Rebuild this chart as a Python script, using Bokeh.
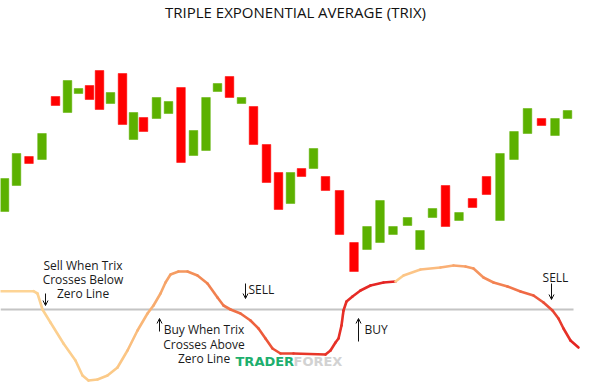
from bokeh.plotting import figure
from bokeh.models import Range1d, Label, Arrow, OpenHead, ColumnDataSource
from bokeh.embed import file_html
from bokeh.resources import INLINE

# ---------------- data ----------------
day = [4, 16, 28.5, 41.5, 55, 67, 78, 89, 99, 110, 122, 133, 143, 156, 168, 180.5,
       193, 205.5, 217, 229, 241, 253, 266, 278, 290, 301, 313, 325, 339, 353.5,
       366.5, 379.5, 392.5, 407, 419.5, 432, 445, 458.5, 472, 486, 499.5, 513.5,
       527, 541, 554.5, 567]
price_open = [89, 115, 144, 141, 204, 188, 207, 215, 230, 197, 227, 161, 183, 182, 187, 213,
              145, 150, 209, 224, 197, 194, 156, 128, 97, 132, 132, 124, 110, 58,
              51, 58, 66, 75, 51, 83, 115, 80, 102, 124, 80, 141,
              167, 182, 165, 182]
price_close = [122, 147, 137, 167, 195, 220, 212, 201, 191, 208, 176, 188, 169, 203, 199, 138,
               170, 203, 217, 203, 203, 156, 118, 91, 128, 124, 152, 110, 66, 29,
               74, 100, 74, 83, 70, 92, 74, 88, 93, 106, 147, 169,
               192, 175, 182, 190]

trix_day_a = [0, 33, 37, 42, 50, 63, 75, 82, 88, 97, 107, 117, 127, 137, 147, 153, 160, 165,
              170, 178, 187, 197, 207, 217, 223, 230, 240, 250, 258, 265, 272, 280, 293,
              325, 330, 335, 338, 341, 343, 346, 352, 360, 370, 383, 395]
trix_a = [1.83, 1.83, 1.6, 0.0, -1.3, -3.4, -5.1, -6.6, -7.1, -7.0, -6.6, -5.8, -4.1, -2.1,
          -0.4, 0.4, 1.6, 2.7, 3.5, 3.8, 3.8, 3.4, 2.6, 1.2, 0.4, 0.0, -0.4, -1.1, -1.9,
          -2.9, -3.9, -4.4, -4.4, -4.5, -4.1, -3.3, -2.9, -1.6, -0.1, 0.8, 1.3, 1.9, 2.4,
          2.7, 2.8]
trix_day_b = [395, 403, 420, 440, 453, 465, 473, 483, 493, 507, 520, 533, 543, 552, 558,
              563, 570, 578]
trix_b = [2.8, 3.4, 4.0, 4.2, 4.4, 4.3, 4.1, 3.2, 2.7, 2.3, 1.8, 1.4, 0.7, -0.1, -0.9,
          -1.9, -3.1, -3.8]

title_text = "TRIPLE EXPONENTIAL AVERAGE (TRIX)"

# ---------------- figure ----------------
p = figure(width=600, height=382, output_backend="svg", toolbar_location=None,
           x_axis_location=None, y_axis_location=None,
           x_range=Range1d(0, 600), y_range=Range1d(-82, 300),
           min_border=0, min_border_left=0, min_border_right=0,
           min_border_top=0, min_border_bottom=0)
p.grid.visible = False
p.outline_line_color = None
p.background_fill_color = "white"
p.extra_y_ranges = {"trix": Range1d(-7.3, 30.9)}

GREEN = "#5CB100"
RED = "#FF0000"
tops = [max(o, c) for o, c in zip(price_open, price_close)]
bots = [min(o, c) for o, c in zip(price_open, price_close)]
cols = [GREEN if c >= o else RED for o, c in zip(price_open, price_close)]
csrc = ColumnDataSource(dict(x=day, top=tops, bottom=bots, color=cols))
p.vbar(x="x", top="top", bottom="bottom", width=8.6, fill_color="color",
       line_color="color", line_width=0.5, source=csrc)

# zero line
p.segment(x0=[0], y0=[0], x1=[573], y1=[0], line_color="#C4C4C4", line_width=2,
          y_range_name="trix")


def hex2rgb(h):
    h = h.lstrip("#")
    return tuple(int(h[i:i + 2], 16) for i in (0, 2, 4))


def grad(stops, x):
    if x <= stops[0][0]:
        return stops[0][1]
    for (x0, c0), (x1, c1) in zip(stops[:-1], stops[1:]):
        if x0 <= x <= x1:
            t = (x - x0) / (x1 - x0)
            a, b = hex2rgb(c0), hex2rgb(c1)
            return "#%02x%02x%02x" % tuple(int(round(a[i] + (b[i] - a[i]) * t)) for i in range(3))
    return stops[-1][1]


stops_a = [(0, "#FDD697"), (120, "#FBC886"), (165, "#F6A468"), (200, "#F28A55"),
           (250, "#EE6540"), (300, "#E8392A"), (395, "#E42222")]
stops_b = [(395, "#FDCF8E"), (440, "#FBB57A"), (480, "#F5925C"), (520, "#F07048"),
           (550, "#EA4A35"), (578, "#E31E1E")]

for xs, ys, stops in ((trix_day_a, trix_a, stops_a), (trix_day_b, trix_b, stops_b)):
    n = len(xs) - 1
    seg = dict(x0=xs[:-1], y0=ys[:-1], x1=xs[1:], y1=ys[1:],
               c=[grad(stops, (xs[i] + xs[i + 1]) / 2) for i in range(n)])
    p.segment(x0="x0", y0="y0", x1="x1", y1="y1", line_color="c", line_width=2.6,
              line_cap="round", source=ColumnDataSource(seg), y_range_name="trix")


def py(yref):
    return 300 - yref


def lbl(x, yref, text, size=12, align="left", color="#1a1a1a", font="Open Sans",
        style="normal"):
    p.add_layout(Label(x=x, y=py(yref), text=text, text_font=font,
                       text_font_size=f"{size}px", text_align=align,
                       text_baseline="middle", text_color=color, text_font_style=style))


def arrow(x, y0ref, y1ref):
    p.add_layout(Arrow(x_start=x, y_start=py(y0ref), x_end=x, y_end=py(y1ref),
                       line_color="#111111", line_width=1,
                       end=OpenHead(size=5, line_width=1, line_color="#111111")))


lbl(295, 11.5, title_text, size=15, align="center", color="#111111")

lbl(82.5, 265, "Sell When Trix", align="center")
lbl(82.5, 279.3, "Crosses Below", align="center")
lbl(82.5, 293.3, "Zero Line", align="center")
arrow(45, 293, 305)

arrow(245, 283, 298)
lbl(248, 289, "SELL")

arrow(159, 331, 318)
lbl(203.5, 329, "Buy When Trix", align="center")
lbl(203.5, 343.5, "Crosses Above", align="center")
lbl(203.5, 358, "Zero Line", align="center")

arrow(358, 341, 318)
lbl(364, 329, "BUY")

lbl(555, 277, "SELL", align="center")
arrow(551, 283, 299)

lbl(235, 361, "TRADER", size=13, color="#1DAF6E", font="DejaVu Sans", style="bold")
lbl(293, 361, "FOREX", size=13, color="#D2D2D2", font="DejaVu Sans", style="bold")

open("out.html", "w").write(file_html(p, INLINE))
